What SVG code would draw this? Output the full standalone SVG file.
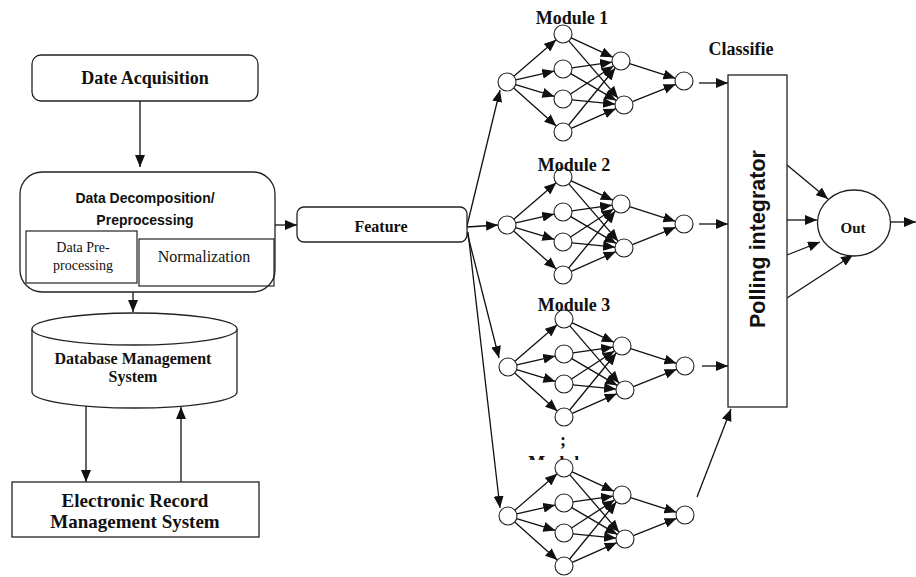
<svg xmlns="http://www.w3.org/2000/svg" width="916" height="577" viewBox="0 0 916 577">
<style>
.box{fill:#fff;stroke:#222;stroke-width:1.3}
.nb{fill:none;stroke:#222;stroke-width:1.2}
.n{fill:#fff;stroke:#222;stroke-width:1.1}
.ln{stroke:#111;stroke-width:1.3;fill:none;marker-end:url(#ah)}
.tb{font-family:"Liberation Serif",serif;font-weight:bold;fill:#111;text-anchor:middle}
.tr{font-family:"Liberation Serif",serif;fill:#111;text-anchor:middle}
.ts{font-family:"Liberation Sans",sans-serif;font-weight:bold;fill:#111;text-anchor:middle}
</style>
<defs>
<marker id="ah" markerWidth="12" markerHeight="10" refX="12" refY="5" orient="auto" markerUnits="userSpaceOnUse">
<path d="M0,0 L12,5 L0,10 z" fill="#111"/>
</marker>
<g id="mnodes">
<circle class="n" cx="0" cy="0" r="9"/>
<circle class="n" cx="56" cy="-48" r="9"/>
<circle class="n" cx="56" cy="-13" r="9"/>
<circle class="n" cx="56" cy="17" r="9"/>
<circle class="n" cx="56" cy="50" r="9"/>
<circle class="n" cx="114" cy="-21" r="9"/>
<circle class="n" cx="117" cy="23" r="9"/>
<circle class="n" cx="177" cy="-1" r="9"/>
</g>
<g id="medges">
<line class="ln" x1="6.83" y1="-5.86" x2="49.17" y2="-42.14"/>
<line class="ln" x1="8.77" y1="-2.04" x2="47.23" y2="-10.96"/>
<line class="ln" x1="8.61" y1="2.61" x2="47.39" y2="14.39"/>
<line class="ln" x1="6.71" y1="5.99" x2="49.29" y2="44.01"/>
<line class="ln" x1="64.16" y1="-44.2" x2="105.84" y2="-24.8"/>
<line class="ln" x1="61.87" y1="-41.17" x2="111.13" y2="16.17"/>
<line class="ln" x1="64.92" y1="-14.23" x2="105.08" y2="-19.77"/>
<line class="ln" x1="63.75" y1="-8.43" x2="109.25" y2="18.43"/>
<line class="ln" x1="63.53" y1="12.07" x2="106.47" y2="-16.07"/>
<line class="ln" x1="64.96" y1="17.88" x2="108.04" y2="22.12"/>
<line class="ln" x1="61.69" y1="43.03" x2="108.31" y2="-14.03"/>
<line class="ln" x1="64.23" y1="46.36" x2="108.77" y2="26.64"/>
<line class="ln" x1="122.58" y1="-18.28" x2="168.42" y2="-3.72"/>
<line class="ln" x1="125.36" y1="19.66" x2="168.64" y2="2.34"/>
</g>
<clipPath id="cutn"><rect x="520" y="454" width="90" height="6"/></clipPath>
</defs>

<g id="connectors">
<line class="ln" x1="140" y1="101" x2="140" y2="167"/>
<line class="ln" x1="133" y1="292" x2="133" y2="312"/>
<line class="ln" x1="121" y1="257" x2="143" y2="257"/>
<line class="ln" x1="275" y1="225" x2="297" y2="225"/>
<line class="ln" x1="86" y1="406" x2="86" y2="482"/>
<line class="ln" x1="181" y1="482" x2="181" y2="407"/>
<line class="ln" x1="466" y1="230" x2="500" y2="90"/>
<line class="ln" x1="467" y1="227" x2="498" y2="225"/>
<line class="ln" x1="467" y1="232" x2="499" y2="358"/>
<line class="ln" x1="468" y1="232" x2="500" y2="508"/>
<use href="#medges" transform="translate(507,82)"/>
<use href="#medges" transform="translate(507,225)"/>
<use href="#medges" transform="translate(508,367)"/>
<use href="#medges" transform="translate(508,516)"/>
<line class="ln" x1="699" y1="83" x2="728" y2="83"/>
<line class="ln" x1="699" y1="224" x2="728" y2="224"/>
<line class="ln" x1="702" y1="366" x2="728" y2="366"/>
<line class="ln" x1="697" y1="497" x2="731" y2="409"/>
<line class="ln" x1="787" y1="165" x2="828" y2="199"/>
<line class="ln" x1="787" y1="220" x2="817" y2="220"/>
<line class="ln" x1="787" y1="255" x2="820" y2="242"/>
<line class="ln" x1="787" y1="298" x2="853" y2="255"/>
<line class="ln" x1="891" y1="222" x2="916" y2="222"/>
</g>

<g id="date-acquisition">
<rect class="box" x="32" y="55" width="226" height="46" rx="9"/>
<text class="tb" x="145" y="84" font-size="18">Date Acquisition</text>
</g>

<g id="data-decomposition">
<rect class="box" x="20" y="172" width="255" height="120" rx="22"/>
<text class="ts" x="145" y="203" font-size="14">Data Decomposition/</text>
<text class="ts" x="145" y="225" font-size="14">Preprocessing</text>
</g>
<g id="data-preprocessing">
<rect class="nb" x="26" y="231" width="111" height="52"/>
<text class="tr" x="83" y="252" font-size="14">Data Pre-</text>
<text class="tr" x="83" y="270" font-size="14">processing</text>
</g>
<g id="normalization">
<rect class="nb" x="139" y="239" width="135" height="47"/>
<text class="tr" x="204" y="262" font-size="16">Normalization</text>
</g>

<g id="database">
<path class="box" d="M32,329 L32,392 A102.5,16 0 0 0 237,392 L237,329"/>
<ellipse class="box" cx="134.5" cy="329" rx="102.5" ry="16"/>
<text class="tb" x="133" y="364" font-size="16">Database Management</text>
<text class="tb" x="133" y="382" font-size="16">System</text>
</g>

<g id="erms">
<rect class="box" x="12" y="482" width="247" height="55"/>
<text class="tb" x="135" y="507" font-size="19">Electronic Record</text>
<text class="tb" x="135" y="528" font-size="19">Management System</text>
</g>

<g id="feature">
<rect class="box" x="297" y="207" width="170" height="35" rx="7"/>
<text class="tb" x="381" y="232" font-size="16">Feature</text>
</g>

<g id="module1">
<use href="#mnodes" transform="translate(507,82)"/>
<text class="tb" x="572" y="24" font-size="18">Module 1</text>
</g>
<g id="module2">
<use href="#mnodes" transform="translate(507,225)"/>
<text class="tb" x="574" y="171" font-size="18">Module 2</text>
</g>
<g id="module3">
<use href="#mnodes" transform="translate(508,367)"/>
<text class="tb" x="574" y="311" font-size="18">Module 3</text>
<text class="tb" x="563" y="446" font-size="18">;</text>
</g>
<g id="modulen">
<text class="tb" x="565" y="469" font-size="18" clip-path="url(#cutn)">Module n</text>
<use href="#mnodes" transform="translate(508,516)"/>
</g>

<g id="classifier">
<text class="tb" x="741" y="55" font-size="18">Classifie</text>
<rect class="box" x="728" y="75" width="59" height="332"/>
<text class="ts" font-size="21.5" transform="translate(765,239) rotate(-90)">Polling integrator</text>
</g>

<g id="out">
<ellipse class="box" cx="854" cy="223" rx="36.5" ry="33"/>
<text class="tb" x="853" y="233" font-size="15">Out</text>
</g>
</svg>
